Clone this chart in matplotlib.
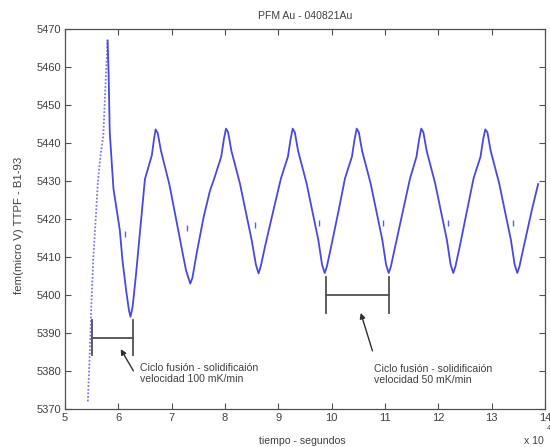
# PFM Au - 040821Au: fem vs tiempo

import numpy as np
import matplotlib
matplotlib.use('Agg')
import matplotlib.pyplot as plt
from matplotlib.ticker import FuncFormatter

# Data (tiempo in units of 10^4 s, fem in micro V)
# first transient leg (100 mK/min)
tiempo_ini = [5.43, 5.47, 5.50, 5.53, 5.62, 5.67, 5.72, 5.76, 5.79, 5.80]
fem_ini = [5372, 5386, 5399, 5409, 5430, 5437, 5442, 5455, 5464, 5467]

tiempo = [5.80, 5.82, 5.84, 5.91, 6.03, 6.08, 6.15, 6.20, 6.23,
          6.27, 6.33, 6.41, 6.50, 6.63, 6.67, 6.70, 6.74, 6.80, 6.96, 7.18, 7.27, 7.35,
          7.39, 7.47, 7.60, 7.72, 7.80, 7.93, 7.98, 8.02, 8.06, 8.12, 8.28, 8.50, 8.58, 8.63,
          8.67, 8.75, 8.91, 9.05, 9.18, 9.23, 9.27, 9.31, 9.37, 9.53, 9.75, 9.82, 9.87,
          9.91, 9.99, 10.13, 10.25, 10.38, 10.43, 10.47, 10.51, 10.57, 10.73, 10.95, 11.02, 11.07,
          11.11, 11.19, 11.34, 11.47, 11.59, 11.64, 11.68, 11.72, 11.78, 11.94, 12.16, 12.23, 12.28,
          12.32, 12.40, 12.54, 12.66, 12.79, 12.84, 12.88, 12.92, 12.98, 13.14, 13.36, 13.43, 13.48,
          13.52, 13.60, 13.75, 13.87]
fem = [5467, 5458, 5443, 5428, 5417, 5409, 5401, 5396, 5394.3,
       5397, 5405, 5417, 5430.5, 5436.8, 5441, 5443.6, 5442.6, 5438, 5429, 5413, 5406.5, 5403,
       5404.5, 5411, 5420.5, 5427.5, 5430.7, 5436.4, 5441, 5443.8, 5442.8, 5438, 5429.4, 5414.5, 5408, 5405.7,
       5407.5, 5412.7, 5422.4, 5430.7, 5436.4, 5441, 5443.8, 5442.8, 5438, 5429.4, 5414.5, 5408, 5405.8,
       5407.5, 5412.7, 5422.2, 5430.7, 5436.4, 5441, 5443.8, 5442.8, 5438, 5429.4, 5414.5, 5408, 5405.8,
       5407.5, 5412.7, 5422.4, 5430.7, 5436.4, 5441, 5443.8, 5442.8, 5438, 5429.4, 5414.5, 5408, 5405.8,
       5407.5, 5412.7, 5422.4, 5430.7, 5436.4, 5441, 5443.6, 5442.8, 5438, 5429.4, 5414.5, 5408, 5405.8,
       5407.5, 5412.7, 5422.2, 5429.2]

# isolated points beside the descending legs
tiempo_sueltos = [6.13, 7.28, 8.56, 9.77, 10.97, 12.18, 13.40]
fem_sueltos = [5416, 5417.6, 5418.4, 5419, 5419, 5419, 5419]

# brackets marking one melt-freeze cycle
ciclo_100 = (5.50, 6.27)
ciclo_50 = (9.89, 11.08)

escala = 1e4
linea = '#3434e0'
gris = '#505050'

plt.rcParams['font.family'] = ['Liberation Sans', 'DejaVu Sans']

fig = plt.figure(figsize=(5.5, 4.47), dpi=100)
ax = fig.add_axes([0.118, 0.085, 0.873, 0.85])

ax.plot(np.array(tiempo_ini) * escala, fem_ini, linestyle=(0, (1, 1)), color='#7a7aee', lw=1.3)
ax.plot(np.array(tiempo) * escala, fem, color=linea, lw=1.3, alpha=0.9)
ax.plot(np.array(tiempo_sueltos) * escala, fem_sueltos, linestyle='none', marker='|',
        markersize=4, color=linea, markeredgewidth=1.0, alpha=0.8)

# bracket 100 mK/min
a, b = ciclo_100[0] * escala, ciclo_100[1] * escala
ax.plot([a, b], [5388.8, 5388.8], color=gris, lw=1.3)
ax.plot([a, a], [5384.2, 5393.5], color=gris, lw=1.3)
ax.plot([b, b], [5384.2, 5393.5], color=gris, lw=1.3)
ax.annotate('', xy=(6.02 * escala, 5386.4), xytext=(6.31 * escala, 5379.4),
            arrowprops=dict(arrowstyle='-|>', color='#303030', lw=1.0, mutation_scale=8))
ax.text(6.41 * escala, 5379.4, 'Ciclo fusión - solidificaión\nvelocidad 100 mK/min',
        fontsize=7.6, color='#404040', linespacing=1.15, va='center', ha='left')

# bracket 50 mK/min
a, b = ciclo_50[0] * escala, ciclo_50[1] * escala
ax.plot([a, b], [5400, 5400], color=gris, lw=1.3)
ax.plot([a, a], [5395.3, 5404.8], color=gris, lw=1.3)
ax.plot([b, b], [5395.3, 5404.8], color=gris, lw=1.3)
ax.annotate('', xy=(10.53 * escala, 5396.0), xytext=(10.78 * escala, 5384.6),
            arrowprops=dict(arrowstyle='-|>', color='#303030', lw=1.0, mutation_scale=8))
ax.text(10.80 * escala, 5379.0, 'Ciclo fusión - solidificaión\nvelocidad 50 mK/min',
        fontsize=7.6, color='#404040', linespacing=1.15, va='center', ha='left')

ax.set_xlim(5 * escala, 14 * escala)
ax.set_ylim(5370, 5470)
ax.set_xticks(np.arange(5, 15) * escala)
ax.set_yticks(np.arange(5370, 5471, 10))
ax.xaxis.set_major_formatter(FuncFormatter(lambda v, p: f'{v / escala:g}'))

ax.tick_params(direction='in', length=4, width=0.8, color=gris, labelcolor='#404040',
               labelsize=8, top=True, right=True)
ax.tick_params(axis='x', pad=3)
ax.tick_params(axis='y', pad=2.5)
for s in ax.spines.values():
    s.set_color(gris)
    s.set_linewidth(0.9)

ax.set_title('PFM Au - 040821Au', fontsize=7.6, color='#404040', pad=7)
ax.set_xlabel('tiempo - segundos', fontsize=7.6, color='#404040')
ax.xaxis.set_label_coords(0.494, -0.071)
ax.set_ylabel('fem(micro V) TTPF - B1-93', fontsize=8.2, color='#404040')
ax.yaxis.set_label_coords(-0.085, 0.482)

ax.text(0.998, -0.083, 'x 10', transform=ax.transAxes, ha='right', va='center',
        fontsize=7.6, color='#404040')
ax.text(1.003, -0.052, '4', transform=ax.transAxes, ha='left', va='center',
        fontsize=5.5, color='#404040')

plt.savefig('out.png', dpi=100)
